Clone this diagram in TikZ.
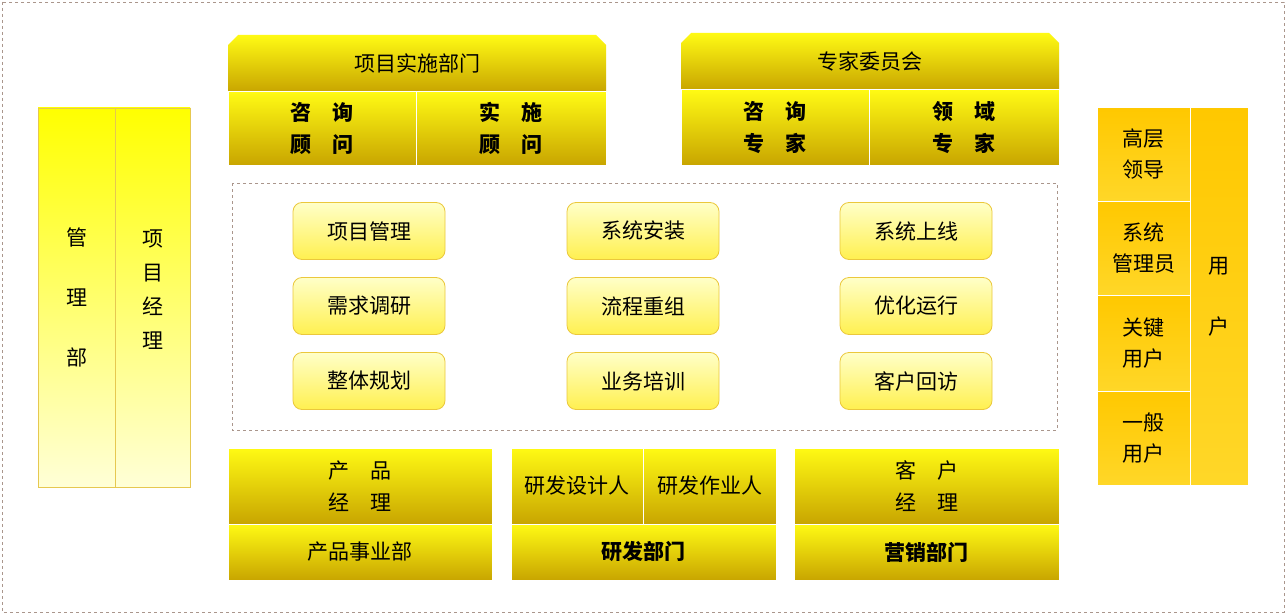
\documentclass[tikz,border=0pt]{standalone}
\usepackage{fontspec}
\setmainfont{Noto Sans CJK SC}
\begin{document}
\begin{tikzpicture}[x=1pt,y=-1pt,
 gold/.style={draw=white,line width=1pt,top color={rgb,255:red,255;green,250;blue,20},bottom color={rgb,255:red,200;green,165;blue,0},font=\fontsize{21}{32}\selectfont},
 goldb/.style={gold,font=\bfseries\fontsize{21}{32}\selectfont},
 pale/.style={draw={rgb,255:red,230;green,200;blue,80},line width=0.8pt,top color={rgb,255:red,255;green,255;blue,0},bottom color={rgb,255:red,255;green,255;blue,215},font=\fontsize{21}{34}\selectfont},
 orng/.style={draw=white,line width=1pt,top color={rgb,255:red,255;green,200;blue,0},bottom color={rgb,255:red,255;green,215;blue,40},font=\fontsize{21}{31}\selectfont},
 task/.style={draw={rgb,255:red,235;green,200;blue,60},line width=0.8pt,rounded corners=9pt,top color={rgb,255:red,255;green,255;blue,200},bottom color={rgb,255:red,255;green,240;blue,80},minimum width=152pt,minimum height=57pt,font=\fontsize{21}{26}\selectfont},
 bdash/.style={draw={rgb,255:red,170;green,150;blue,140},dashed,line width=0.8pt}]
\useasboundingbox (0,0) rectangle (1287,615);
\fill[white] (0,0) rectangle (1287,615);
\draw[bdash] (2,2) rectangle (1284,612);
% left
\node[pale,minimum width=77pt,minimum height=379pt,align=center,inner sep=0] (mgmt) at (76.5,297.5) {管\\[26pt]理\\[26pt]部};
\node[pale,minimum width=75pt,minimum height=379pt,inner sep=0] (pm) at (152.5,297.5) {};
\node[align=center,font=\fontsize{21}{34}\selectfont] (pmt) at (152.5,290) {项\\目\\经\\理};
% top left
\shade[top color={rgb,255:red,255;green,250;blue,20},bottom color={rgb,255:red,200;green,165;blue,0}] (228,92) -- (228,45) -- (238,35) -- (596,35) -- (606,45) -- (606,92) -- cycle;
\node[font=\fontsize{21}{26}\selectfont] (impl) at (417,63) {项目实施部门};
\node[goldb,minimum width=188pt,minimum height=73pt,align=center] (zxgw) at (322,128.5) {咨\hspace{1em}询\\顾\hspace{1em}问};
\node[goldb,minimum width=190pt,minimum height=73pt,align=center] (ssgw) at (511,128.5) {实\hspace{1em}施\\顾\hspace{1em}问};
% top right
\shade[top color={rgb,255:red,255;green,250;blue,20},bottom color={rgb,255:red,200;green,165;blue,0}] (681,90) -- (681,43) -- (691,33) -- (1049,33) -- (1059,43) -- (1059,90) -- cycle;
\node[font=\fontsize{21}{26}\selectfont] (exp) at (870,61) {专家委员会};
\node[goldb,minimum width=188pt,minimum height=75pt,align=center] (zxzj) at (775,127.5) {咨\hspace{1em}询\\专\hspace{1em}家};
\node[goldb,minimum width=190pt,minimum height=75pt,align=center] (lyzj) at (964,127.5) {领\hspace{1em}域\\专\hspace{1em}家};
% middle
\draw[bdash] (232,183) rectangle (1057,430);
\node[task] (t1) at (369,231) {项目管理};
\node[task] (t2) at (643,231) {系统安装};
\node[task] (t3) at (916,231) {系统上线};
\node[task] (t4) at (369,306) {需求调研};
\node[task] (t5) at (643,306) {流程重组};
\node[task] (t6) at (916,306) {优化运行};
\node[task] (t7) at (369,381) {整体规划};
\node[task] (t8) at (643,381) {业务培训};
\node[task] (t9) at (916,381) {客户回访};
% bottom
\node[gold,minimum width=264pt,minimum height=76pt,align=center] (cpjl) at (360,486) {产\hspace{1em}品\\经\hspace{1em}理};
\node[gold,minimum width=264pt,minimum height=56pt] (cpsy) at (360,552) {产品事业部};
\node[gold,minimum width=132pt,minimum height=76pt,inner sep=0] (yfsj) at (577,486) {研发设计人};
\node[gold,minimum width=133pt,minimum height=76pt,inner sep=0] (yfzy) at (709.5,486) {研发作业人};
\node[goldb,minimum width=265pt,minimum height=56pt] (yfbm) at (643.5,552) {研发部门};
\node[gold,minimum width=265pt,minimum height=76pt,align=center] (khjl) at (926.5,486) {客\hspace{1em}户\\经\hspace{1em}理};
\node[goldb,minimum width=265pt,minimum height=56pt] (yxbm) at (926.5,552) {营销部门};
% right
\node[orng,minimum width=93pt,minimum height=93pt,align=center] (r1) at (1143.5,154.5) {高层\\领导};
\node[orng,minimum width=93pt,minimum height=94pt,align=center] (r2) at (1143.5,248) {系统\\管理员};
\node[orng,minimum width=93pt,minimum height=96pt,align=center] (r3) at (1143.5,343) {关键\\用户};
\node[orng,minimum width=93pt,minimum height=94pt,align=center] (r4) at (1143.5,438) {一般\\用户};
\node[orng,minimum width=58pt,minimum height=377pt,align=center] (user) at (1219,296.5) {用\\[30pt]户};
\end{tikzpicture}
\end{document}
